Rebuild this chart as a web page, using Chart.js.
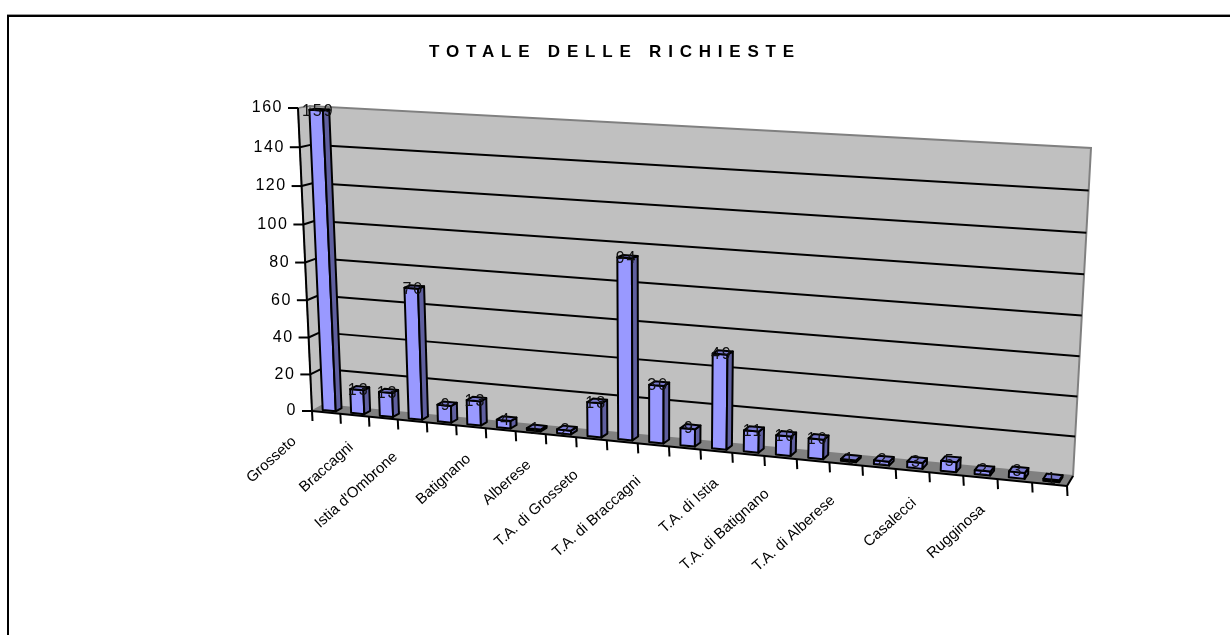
<!DOCTYPE html>
<html>
<head>
<meta charset="utf-8">
<title>Totale delle richieste</title>
<script src="https://cdn.jsdelivr.net/npm/chart.js@4/dist/chart.umd.js"></script>
<style>
    html, body { margin: 0; background: #fff; }
    canvas { display: block; }
</style>
</head>
<body>
<canvas id="richieste" width="1230" height="635"></canvas>
<script>
// Only every second category name is printed on the original axis
const categories = [
    'Grosseto', '', 'Braccagni', '', "Istia d'Ombrone", '', 'Batignano', '',
    'Alberese', '', 'T.A. di Grosseto', '', 'T.A. di Braccagni', '', 'T.A. di Istia', '',
    'T.A. di Batignano', '', 'T.A. di Alberese', '', 'Casalecci', '', 'Rugginosa', ''
];
const richieste = [159, 13, 13, 70, 9, 13, 4, 1, 2, 18, 94, 30, 9, 49, 11, 10, 10, 1, 2, 3, 5, 2, 3, 1];
const chartTitle = 'TOTALE DELLE RICHIESTE';

const labelFont = '15px "Liberation Sans", Arial, sans-serif';
const numberFont = '16px "Liberation Sans", Arial, sans-serif';

// Corners of the 3D box on the page: bottom left, bottom right, top right, top left
const frontQuad = [[312, 411], [1067, 486], [1086, 150], [298, 108]];
const backQuad = [[323, 405], [1073, 476], [1091, 148], [310, 106]];

// Maps the unit square onto a quad (perspective)
function quadMapper(q) {
    const [[x0, y0], [x1, y1], [x2, y2], [x3, y3]] = q;
    const dx1 = x1 - x2, dx2 = x3 - x2, sx = x0 - x1 + x2 - x3;
    const dy1 = y1 - y2, dy2 = y3 - y2, sy = y0 - y1 + y2 - y3;
    const den = dx1 * dy2 - dx2 * dy1;
    const g = (sx * dy2 - dx2 * sy) / den;
    const h = (dx1 * sy - sx * dy1) / den;
    const a = x1 - x0 + g * x1, b = x3 - x0 + h * x3;
    const d = y1 - y0 + g * y1, e = y3 - y0 + h * y3;
    return (s, t) => {
        const w = g * s + h * t + 1;
        return [(a * s + b * t + x0) / w, (d * s + e * t + y0) / w];
    };
}
const mapFront = quadMapper(frontQuad);
const mapBack = quadMapper(backQuad);

// Set by the plugin, the bar element needs the chart area
let currentChart = null;

// Scale pixel + depth (0 front, 1 back) -> page position
function project(chart, px, py, depth) {
    const area = chart.chartArea;
    const s = (px - area.left) / area.width;
    const t = (area.bottom - py) / area.height;
    const f = mapFront(s, t), b = mapBack(s, t);
    return [f[0] + (b[0] - f[0]) * depth, f[1] + (b[1] - f[1]) * depth];
}

function polygon(ctx, pts, fill, stroke, lineWidth) {
    ctx.beginPath();
    pts.forEach((p, i) => i ? ctx.lineTo(p[0], p[1]) : ctx.moveTo(p[0], p[1]));
    ctx.closePath();
    if (fill) { ctx.fillStyle = fill; ctx.fill(); }
    if (stroke) { ctx.strokeStyle = stroke; ctx.lineWidth = lineWidth; ctx.stroke(); }
}

function line(ctx, a, b, color, lineWidth) {
    ctx.beginPath();
    ctx.moveTo(a[0], a[1]);
    ctx.lineTo(b[0], b[1]);
    ctx.strokeStyle = color;
    ctx.lineWidth = lineWidth;
    ctx.stroke();
}

// Bars are drawn as boxes, from the position the scales gave them
Chart.BarElement.prototype.draw = function (ctx) {
    const left = this.x - this.width / 2, right = this.x + this.width / 2;
    const near = 0.28, far = 0.8;
    const p = (x, y, d) => project(currentChart, x, y, d);
    ctx.save();
    ctx.lineJoin = 'round';
    polygon(ctx, [p(left, this.base, near), p(right, this.base, near), p(right, this.y, near), p(left, this.y, near)], '#9999ff', '#000', 2);
    polygon(ctx, [p(right, this.base, near), p(right, this.base, far), p(right, this.y, far), p(right, this.y, near)], '#5f5f9f', '#000', 2);
    polygon(ctx, [p(left, this.y, near), p(right, this.y, near), p(right, this.y, far), p(left, this.y, far)], '#7c7cd0', '#000', 2);
    ctx.restore();
};

const box3d = {
    id: 'box3d',
    beforeInit(chart) {
        currentChart = chart;
    },
    beforeDraw(chart) {
        // wide title spacing, only for the title layer
        chart.ctx.letterSpacing = '6.8px';
    },
    beforeDatasetsDraw(chart) {
        const ctx = chart.ctx;
        const { x: xs, y: ys } = chart.scales;
        const area = chart.chartArea;
        ctx.letterSpacing = '0px';
        ctx.save();

        // chart frame, right and bottom edges are cut off in the original
        ctx.fillStyle = '#999';
        ctx.fillRect(7, 14, 1223, 1);
        ctx.fillStyle = '#000';
        ctx.fillRect(7, 15, 1223, 2);
        ctx.fillRect(7, 15, 2, 620);

        const l = area.left, r = area.right, b = area.bottom, t = area.top;
        const p = (x, y, d) => project(chart, x, y, d);

        // walls and floor
        polygon(ctx, [p(l, b, 0), p(l, t, 0), p(l, t, 1), p(l, b, 1)], '#c0c0c0', '#808080', 1.5);
        polygon(ctx, [p(l, b, 1), p(r, b, 1), p(r, t, 1), p(l, t, 1)], '#c0c0c0', '#808080', 2);
        polygon(ctx, [p(l, b, 0), p(r, b, 0), p(r, b, 1), p(l, b, 1)], '#808080', null);

        // grid lines and value axis
        ctx.font = numberFont;
        ctx.letterSpacing = '1.5px';
        ctx.textAlign = 'right';
        ctx.textBaseline = 'middle';
        ys.ticks.forEach(tick => {
            const y = ys.getPixelForValue(tick.value);
            const front = p(l, y, 0), back = p(l, y, 1), end = p(r, y, 1);
            if (tick.value > 0 && tick.value < ys.max) {
                line(ctx, front, back, '#000', 2);
                line(ctx, back, end, '#000', 2);
            }
            line(ctx, [front[0] - 10, front[1]], front, '#000', 2);
            ctx.fillStyle = '#000';
            ctx.fillText(String(tick.value), front[0] - 15, front[1]);
        });
        ctx.letterSpacing = '0px';
        line(ctx, p(l, b, 0), p(l, t, 0), '#000', 2);
        line(ctx, p(l, b, 0), p(r, b, 0), '#000', 2);
        line(ctx, p(r, b, 0), p(r, b, 1), '#000', 2);

        // category ticks and rotated names
        const step = area.width / categories.length;
        ctx.font = labelFont;
        ctx.textBaseline = 'middle';
        for (let i = 0; i <= categories.length; i++) {
            const q = p(l + i * step, b, 0);
            line(ctx, q, [q[0] + 0.5, q[1] + 10], '#000', 2);
        }
        categories.forEach((name, i) => {
            if (!name) return;
            const q = p(xs.getPixelForValue(i), b, 0);
            const long = name.length > 14;
            ctx.save();
            ctx.translate(q[0] + (long ? -46 : -32), q[1] + (long ? 31 : 27));
            ctx.rotate(-42 * Math.PI / 180);
            ctx.textAlign = 'right';
            ctx.fillStyle = '#000';
            ctx.fillText(name, 0, 0);
            ctx.restore();
        });
        ctx.restore();
    },
    afterDatasetsDraw(chart) {
        const ctx = chart.ctx;
        ctx.save();
        ctx.font = numberFont;
        ctx.letterSpacing = '2px';
        ctx.textAlign = 'center';
        ctx.textBaseline = 'middle';
        ctx.fillStyle = '#111';
        chart.getDatasetMeta(0).data.forEach((bar, i) => {
            const q = project(chart, bar.x, bar.y, 0.5);
            ctx.fillText(String(richieste[i]), q[0] - 0.5, q[1] + 2);
        });
        ctx.restore();
    }
};

function createChart() {
    return new Chart(document.getElementById('richieste').getContext('2d'), {
        type: 'bar',
        data: {
            labels: categories,
            datasets: [{
                label: 'Richieste',
                data: richieste,
                backgroundColor: '#9999ff',
                barPercentage: 0.46,
                categoryPercentage: 1
            }]
        },
        options: {
            responsive: false,
            animation: false,
            layout: { padding: { left: 20, right: 20, bottom: 20 } },
            plugins: {
                legend: { display: false },
                tooltip: { enabled: false },
                title: {
                    display: true,
                    text: chartTitle,
                    color: '#000',
                    font: { family: '"Liberation Sans", Arial, sans-serif', size: 17, weight: 'bold', lineHeight: 1.2 },
                    padding: { top: 42, bottom: 20 }
                }
            },
            scales: {
                x: { display: false, offset: true },
                y: { display: false, min: 0, max: 160, ticks: { stepSize: 20 } }
            }
        },
        plugins: [box3d]
    });
}

createChart();
</script>
</body>
</html>
